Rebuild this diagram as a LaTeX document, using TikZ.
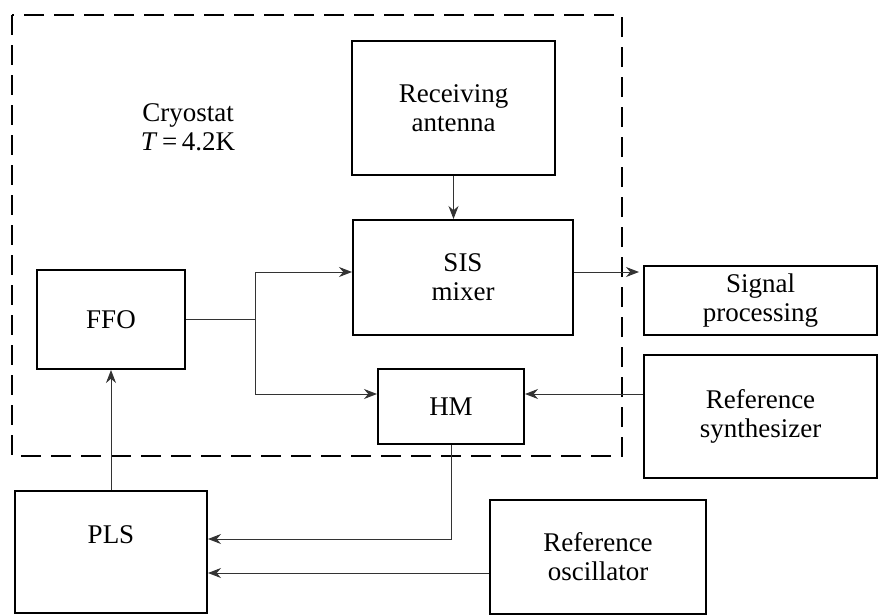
\documentclass[tikz,border=0pt]{standalone}
\usepackage{fontspec}
\setmainfont{Liberation Serif}
\usetikzlibrary{arrows.meta}
\begin{document}
\begin{tikzpicture}[x=1pt,y=-1pt,
  block/.style={draw,line width=2pt,align=center,inner sep=0pt,font=\fontsize{27}{29}\selectfont},
  link/.style={line width=1pt,draw=black!80,-{Stealth[length=13pt,width=10pt]}}]
  \useasboundingbox (0,0) rectangle (879,616);
  \draw[line width=1.8pt,dash pattern=on 20pt off 10pt] (12,15) rectangle (622,456);
  \node[font=\fontsize{27}{29}\selectfont,align=center] (cryo) at (188,127) {Cryostat\\\textit{T}\,=\,4.2K};
  \node[block,minimum width=203pt,minimum height=134pt] (antenna) at (453.5,108) {Receiving\\antenna};
  \node[block,minimum width=220pt,minimum height=115pt] (sis) at (463,277.5) {SIS\\mixer};
  \node[block,minimum width=148pt,minimum height=99pt] (ffo) at (111,319.5) {FFO};
  \node[block,minimum width=146pt,minimum height=75pt] (hm) at (451,406.5) {HM};
  \node[block,minimum width=233pt,minimum height=69pt] (signal) at (760.5,300.5) {Signal\\processing};
  \node[block,minimum width=233pt,minimum height=123pt] (synth) at (760.5,416.5) {Reference\\synthesizer};
  \node[block,minimum width=192pt,minimum height=122pt] (pls) at (111,552) {PLS\\[6pt]};
  \node[block,minimum width=216pt,minimum height=114pt] (osc) at (598,557) {Reference\\oscillator};
  \coordinate (split) at (255,319.5);
  \draw[link] (antenna.south) -- (antenna.south |- sis.north);
  \draw[link] (ffo.east) -- (split) |- ([yshift=5.5pt]sis.west);
  \draw[link] (split) |- ([yshift=12.5pt]hm.west);
  \draw[link,shorten >=4pt] ([yshift=5.5pt]sis.east) -- ([yshift=5.5pt]sis.east -| signal.west);
  \draw[link] ([yshift=22.5pt]synth.west) -- ([yshift=22.5pt]synth.west -| hm.east);
  \draw[link] (hm.south) |- ([yshift=13pt]pls.east);
  \draw[link] ([yshift=-16pt]osc.west) -- ([yshift=-16pt]osc.west -| pls.east);
  \draw[link] (pls.north) -- (pls.north |- ffo.south);
\end{tikzpicture}
\end{document}
